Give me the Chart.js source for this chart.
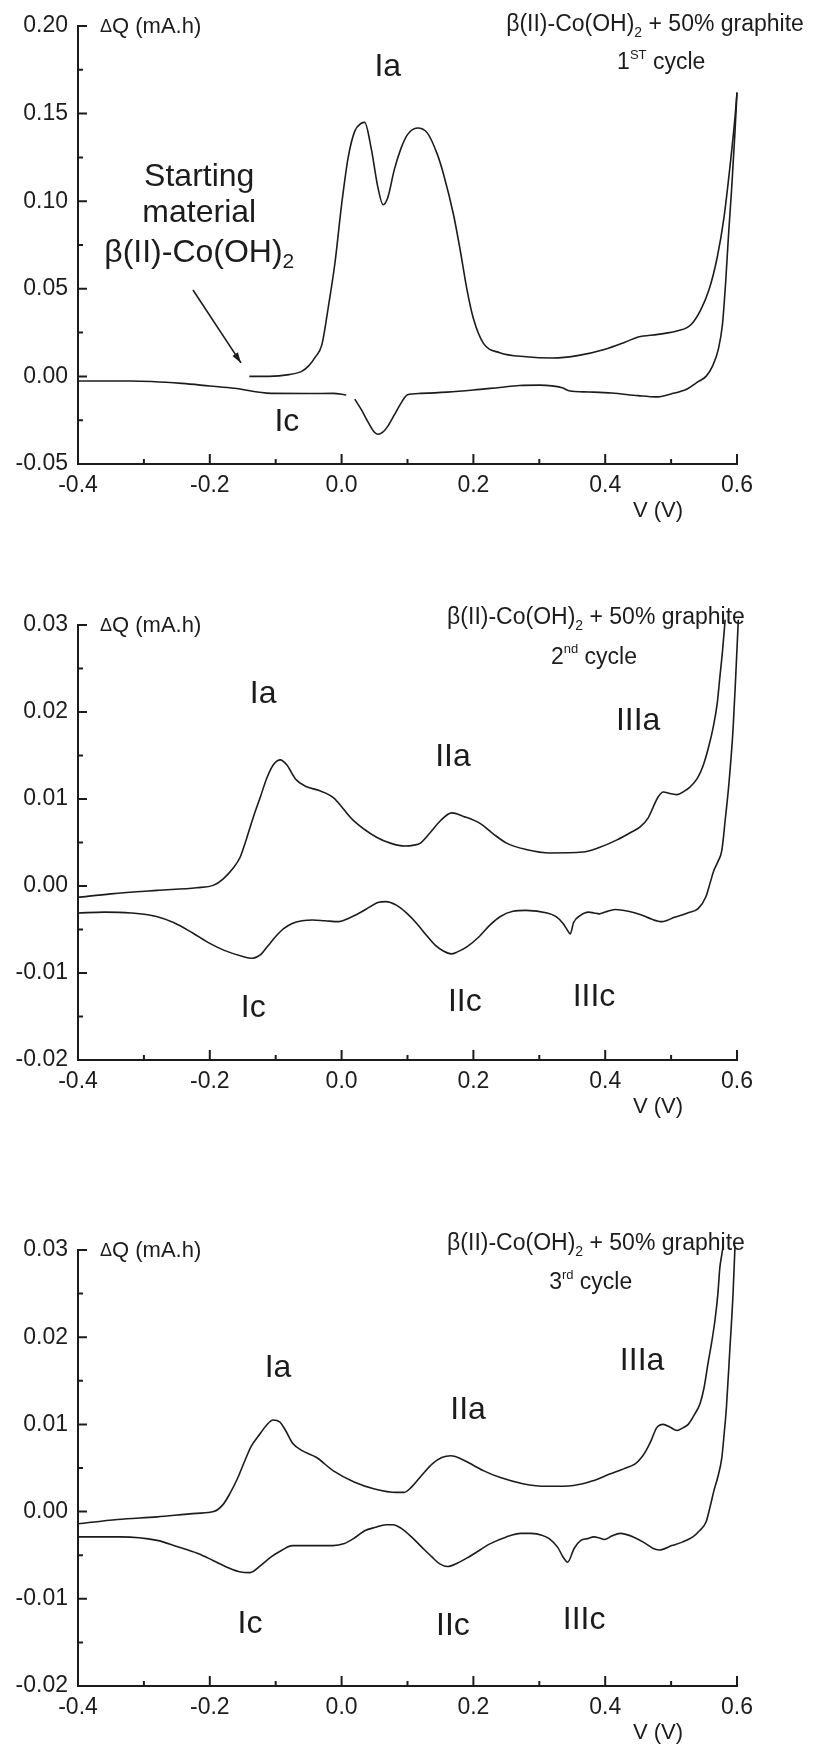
<!DOCTYPE html>
<html>
<head>
<meta charset="utf-8">
<title>beta(II)-Co(OH)2 + 50% graphite, cycles 1-3</title>
<script src="https://cdn.jsdelivr.net/npm/chart.js@4.4.1/dist/chart.umd.min.js"></script>
<style>
  html, body { margin: 0; padding: 0; background: #fff; }
  #page { position: relative; width: 817px; height: 1746px; overflow: hidden; }
  .panel { position: absolute; left: 0; width: 817px; }
  .panel canvas { display: block; }
</style>
</head>
<body>
<div id="page">
  <div class="panel" style="top:0px"><canvas id="cycle1Chart" width="817" height="524"></canvas></div>
  <div class="panel" style="top:599px"><canvas id="cycle2Chart" width="817" height="521"></canvas></div>
  <div class="panel" style="top:1224px"><canvas id="cycle3Chart" width="817" height="522"></canvas></div>
</div>
<script>
const xTickValues = [-0.4, -0.2, 0.0, 0.2, 0.4, 0.6];
const cycle1YTicks = [-0.05, 0.0, 0.05, 0.1, 0.15, 0.2];
const cycle23YTicks = [-0.02, -0.01, 0.0, 0.01, 0.02, 0.03];

// 1st cycle, oxidation branch (starts at -0.14 V)
const cycle1AnodicV = [-0.14, -0.11, -0.08, -0.06, -0.05, -0.04, -0.03, -0.02, -0.01, 0.0, 0.01, 0.02, 0.03, 0.035, 0.045, 0.055, 0.063, 0.07, 0.08, 0.09, 0.1, 0.115, 0.13, 0.145, 0.155, 0.17, 0.18, 0.19, 0.2, 0.215, 0.24, 0.28, 0.32, 0.36, 0.4, 0.43, 0.45, 0.48, 0.51, 0.53, 0.545, 0.558, 0.57, 0.58, 0.59, 0.597, 0.6];
const cycle1AnodicQ = [0.0, 0.0, 0.001, 0.003, 0.006, 0.011, 0.018, 0.04, 0.065, 0.098, 0.125, 0.14, 0.1445, 0.145, 0.13, 0.108, 0.098, 0.102, 0.118, 0.13, 0.138, 0.1418, 0.139, 0.127, 0.115, 0.092, 0.072, 0.05, 0.033, 0.019, 0.0135, 0.0112, 0.0105, 0.012, 0.0155, 0.0195, 0.0225, 0.024, 0.026, 0.0295, 0.038, 0.05, 0.068, 0.09, 0.122, 0.148, 0.162];

// 1st cycle, reduction branch (null = break in the trace)
const cycle1CathodicV = [0.6, 0.597, 0.592, 0.587, 0.583, 0.578, 0.572, 0.563, 0.553, 0.541, 0.525, 0.5, 0.477, 0.45, 0.41, 0.375, 0.345, 0.335, 0.3, 0.27, 0.24, 0.2, 0.16, 0.12, 0.1, 0.09, 0.08, 0.07, 0.062, 0.055, 0.048, 0.04, 0.03, 0.02, 0.013, 0.007, -0.013, -0.05, -0.107, -0.163, -0.2, -0.242, -0.32, -0.4];
const cycle1CathodicQ = [0.162, 0.14, 0.108, 0.08, 0.055, 0.03, 0.016, 0.006, 0.0, -0.003, -0.007, -0.01, -0.0117, -0.011, -0.0095, -0.0089, -0.0082, -0.0065, -0.005, -0.0052, -0.0063, -0.0078, -0.009, -0.0097, -0.0105, -0.0154, -0.022, -0.0285, -0.032, -0.033, -0.031, -0.026, -0.019, -0.013, null, -0.0106, -0.0097, -0.0098, -0.0097, -0.0068, -0.0055, -0.004, -0.0026, -0.0026];

const cycle2AnodicV = [-0.4, -0.35, -0.28, -0.22, -0.194, -0.18, -0.165, -0.154, -0.144, -0.134, -0.123, -0.113, -0.103, -0.093, -0.083, -0.07, -0.053, -0.035, -0.013, 0.017, 0.053, 0.075, 0.096, 0.11, 0.119, 0.134, 0.15, 0.167, 0.185, 0.21, 0.23, 0.251, 0.28, 0.316, 0.366, 0.39, 0.418, 0.44, 0.453, 0.465, 0.473, 0.48, 0.488, 0.5, 0.509, 0.52, 0.529, 0.54, 0.548, 0.557, 0.564, 0.57, 0.574, 0.578, 0.582];
const cycle2AnodicQ = [-0.0013, -0.0009, -0.0005, -0.0002, 0.0001, 0.0008, 0.002, 0.0033, 0.0055, 0.0079, 0.0103, 0.0125, 0.014, 0.0145, 0.0139, 0.0123, 0.0114, 0.011, 0.0102, 0.0076, 0.0056, 0.0049, 0.0046, 0.0047, 0.0049, 0.0061, 0.0075, 0.0084, 0.008, 0.0072, 0.006, 0.0049, 0.0042, 0.0038, 0.0039, 0.0044, 0.0053, 0.0062, 0.0068, 0.0078, 0.0091, 0.0102, 0.0108, 0.0106, 0.0105, 0.0109, 0.0114, 0.0124, 0.0137, 0.016, 0.0183, 0.021, 0.024, 0.027, 0.0306];

const cycle2CathodicV = [0.602, 0.598, 0.594, 0.588, 0.582, 0.577, 0.571, 0.565, 0.559, 0.553, 0.541, 0.525, 0.505, 0.486, 0.47, 0.454, 0.435, 0.415, 0.4, 0.391, 0.383, 0.375, 0.362, 0.352, 0.347, 0.342, 0.336, 0.325, 0.312, 0.28, 0.26, 0.241, 0.225, 0.209, 0.19, 0.175, 0.166, 0.155, 0.142, 0.128, 0.114, 0.1, 0.083, 0.067, 0.055, 0.043, 0.027, 0.011, -0.004, -0.025, -0.044, -0.06, -0.075, -0.088, -0.1, -0.112, -0.123, -0.135, -0.15, -0.178, -0.2, -0.226, -0.255, -0.281, -0.32, -0.36, -0.4];
const cycle2CathodicQ = [0.0306, 0.024, 0.018, 0.012, 0.0075, 0.0041, 0.0028, 0.0018, 0.0003, -0.0012, -0.0026, -0.0031, -0.0036, -0.0041, -0.0038, -0.0033, -0.0029, -0.0027, -0.003, -0.0032, -0.0031, -0.003, -0.0034, -0.0042, -0.0055, -0.005, -0.0043, -0.0035, -0.0031, -0.0028, -0.0029, -0.0035, -0.0045, -0.0058, -0.007, -0.0076, -0.0078, -0.0075, -0.0068, -0.0056, -0.0043, -0.0032, -0.0022, -0.0018, -0.0019, -0.0024, -0.0031, -0.0037, -0.0041, -0.004, -0.0039, -0.004, -0.0043, -0.0049, -0.0058, -0.0069, -0.0079, -0.0083, -0.0081, -0.0074, -0.0066, -0.0054, -0.0042, -0.0035, -0.0031, -0.003, -0.0031];

const cycle3AnodicV = [-0.4, -0.34, -0.28, -0.22, -0.194, -0.18, -0.17, -0.158, -0.147, -0.137, -0.124, -0.114, -0.104, -0.094, -0.085, -0.074, -0.06, -0.038, -0.013, 0.019, 0.05, 0.083, 0.095, 0.106, 0.122, 0.138, 0.152, 0.166, 0.18, 0.193, 0.215, 0.241, 0.275, 0.312, 0.352, 0.38, 0.407, 0.428, 0.446, 0.455, 0.462, 0.47, 0.478, 0.488, 0.498, 0.509, 0.518, 0.526, 0.536, 0.544, 0.55, 0.556, 0.562, 0.567, 0.571, 0.574, 0.577, 0.579];
const cycle3AnodicQ = [-0.0014, -0.0009, -0.0006, -0.0002, 0.0, 0.0008, 0.002, 0.0038, 0.0058, 0.0075, 0.0089, 0.0099, 0.0105, 0.0103, 0.0093, 0.0078, 0.007, 0.0062, 0.0047, 0.0034, 0.0026, 0.0022, 0.0022, 0.0028, 0.0042, 0.0055, 0.0062, 0.0064, 0.0061, 0.0056, 0.0047, 0.0039, 0.0032, 0.0029, 0.003, 0.0035, 0.0043, 0.0049, 0.0055, 0.0062, 0.007, 0.0082, 0.0096, 0.01, 0.0097, 0.0093, 0.0096, 0.01, 0.0112, 0.0124, 0.0142, 0.017, 0.0196, 0.0222, 0.025, 0.028, 0.0295, 0.0305];

const cycle3CathodicV = [0.597, 0.594, 0.589, 0.584, 0.58, 0.577, 0.571, 0.565, 0.559, 0.553, 0.543, 0.533, 0.517, 0.501, 0.482, 0.472, 0.462, 0.445, 0.423, 0.41, 0.399, 0.39, 0.383, 0.373, 0.363, 0.353, 0.343, 0.336, 0.328, 0.315, 0.304, 0.288, 0.272, 0.25, 0.225, 0.21, 0.193, 0.176, 0.161, 0.149, 0.137, 0.122, 0.106, 0.09, 0.078, 0.067, 0.052, 0.035, 0.02, 0.003, -0.013, -0.044, -0.075, -0.09, -0.107, -0.123, -0.139, -0.155, -0.17, -0.195, -0.218, -0.25, -0.28, -0.336, -0.4];
const cycle3CathodicQ = [0.0305, 0.025, 0.0184, 0.012, 0.0085, 0.0062, 0.004, 0.0024, 0.0005, -0.0012, -0.0022, -0.0029, -0.0035, -0.0039, -0.0044, -0.0042, -0.0037, -0.003, -0.0025, -0.0028, -0.0032, -0.003, -0.0029, -0.0031, -0.0033, -0.0042, -0.0058, -0.0052, -0.0041, -0.0031, -0.0027, -0.0025, -0.0025, -0.0029, -0.0037, -0.0044, -0.0052, -0.0059, -0.0063, -0.006, -0.0052, -0.0041, -0.0029, -0.0019, -0.0015, -0.0015, -0.0018, -0.0022, -0.003, -0.0037, -0.0039, -0.0039, -0.0039, -0.0044, -0.0052, -0.0062, -0.007, -0.0069, -0.0065, -0.0056, -0.0048, -0.004, -0.0033, -0.0029, -0.0029];

// Peak names, placed in data coordinates (V, dQ).
const cycle1PeakLabels = [
  { text: "Ia", v: 0.07, q: 0.1766 },
  { text: "Ic", v: -0.083, q: -0.026 },
];
const cycle2PeakLabels = [
  { text: "Ia", v: -0.119, q: 0.022 },
  { text: "IIa", v: 0.169, q: 0.0148 },
  { text: "IIIa", v: 0.45, q: 0.0189 },
  { text: "Ic", v: -0.134, q: -0.014 },
  { text: "IIc", v: 0.187, q: -0.0134 },
  { text: "IIIc", v: 0.383, q: -0.0128 },
];
const cycle3PeakLabels = [
  { text: "Ia", v: -0.0965, q: 0.0164 },
  { text: "IIa", v: 0.192, q: 0.0116 },
  { text: "IIIa", v: 0.456, q: 0.0173 },
  { text: "Ic", v: -0.139, q: -0.0129 },
  { text: "IIc", v: 0.169, q: -0.0131 },
  { text: "IIIc", v: 0.368, q: -0.0125 },
];

const INK = "#1c1c1c";
const FONT = '"Liberation Sans", Arial, Helvetica, sans-serif';

const toPoints = (vs, qs) => vs.map((v, i) => ({ x: v, y: qs[i] }));
const midpoints = (values) => values.slice(1).map((v, i) => (v + values[i]) / 2);

// Draw a run of text pieces (for sub/superscripts), centred or left aligned.
const drawRich = (ctx, parts, x, y, align) => {
  let width = 0;
  parts.forEach((p) => {
    ctx.font = `${p.size}px ${FONT}`;
    width += ctx.measureText(p.text).width;
  });
  let cursor = align === "left" ? x : x - width / 2;
  ctx.textAlign = "left";
  ctx.textBaseline = "middle";
  parts.forEach((p) => {
    ctx.font = `${p.size}px ${FONT}`;
    ctx.fillText(p.text, cursor, y + (p.shift || 0));
    cursor += ctx.measureText(p.text).width;
  });
};

const compoundParts = [
  { text: "β(II)-Co(OH)", size: 23 },
  { text: "2", size: 14, shift: 8 },
  { text: " + 50% graphite", size: 23 },
];
const cycleParts = (num, suffix) => [
  { text: num, size: 23 },
  { text: suffix, size: 13, shift: -8 },
  { text: " cycle", size: 23 },
];

// Ticks of the original point into the plot: long for labelled, short for halves.
const inwardTicks = {
  id: "inwardTicks",
  afterDraw(chart) {
    const { ctx, chartArea, scales } = chart;
    const xMajor = scales.x.ticks.map((t) => t.value);
    const yMajor = scales.y.ticks.map((t) => t.value);
    ctx.save();
    ctx.strokeStyle = INK;
    ctx.lineWidth = 2;
    ctx.beginPath();
    xMajor.forEach((v) => {
      const px = scales.x.getPixelForValue(v);
      ctx.moveTo(px, chartArea.bottom);
      ctx.lineTo(px, chartArea.bottom - 10);
    });
    midpoints(xMajor).forEach((v) => {
      const px = scales.x.getPixelForValue(v);
      ctx.moveTo(px, chartArea.bottom);
      ctx.lineTo(px, chartArea.bottom - 5);
    });
    yMajor.forEach((v) => {
      const py = scales.y.getPixelForValue(v);
      ctx.moveTo(chartArea.left, py);
      ctx.lineTo(chartArea.left + 9, py);
    });
    midpoints(yMajor).forEach((v) => {
      const py = scales.y.getPixelForValue(v);
      ctx.moveTo(chartArea.left, py);
      ctx.lineTo(chartArea.left + 5, py);
    });
    ctx.stroke();
    ctx.restore();
  },
};

const makeNotesPlugin = (notes) => ({
  id: "panelNotes",
  afterDraw(chart) {
    const { ctx, chartArea, scales } = chart;
    const px = (v) => scales.x.getPixelForValue(v);
    const py = (q) => scales.y.getPixelForValue(q);
    ctx.save();
    ctx.fillStyle = INK;

    drawRich(ctx, [{ text: "Δ", size: 18 }, { text: "Q (mA.h)", size: 22 }], chartArea.left + 22, chartArea.top + 1, "left");
    drawRich(ctx, [{ text: "V (V)", size: 22 }], chartArea.left + 580, chartArea.bottom + 47, "center");

    drawRich(ctx, compoundParts, px(notes.titleAt.v), py(notes.titleAt.q), "center");
    drawRich(ctx, notes.cycle, px(notes.cycleAt.v), py(notes.cycleAt.q), "center");

    notes.peaks.forEach((item) => {
      drawRich(ctx, [{ text: item.text, size: 32 }], px(item.v), py(item.q), "center");
    });

    if (notes.starting) {
      const s = notes.starting;
      drawRich(ctx, [{ text: "Starting", size: 32 }], px(s.v), py(s.lines[0]), "center");
      drawRich(ctx, [{ text: "material", size: 32 }], px(s.v), py(s.lines[1]), "center");
      drawRich(ctx, [{ text: "β(II)-Co(OH)", size: 32 }, { text: "2", size: 21, shift: 9 }], px(s.v), py(s.lines[2]), "center");

      const x1 = px(s.arrowFrom.v), y1 = py(s.arrowFrom.q);
      const x2 = px(s.arrowTo.v), y2 = py(s.arrowTo.q);
      const angle = Math.atan2(y2 - y1, x2 - x1);
      ctx.strokeStyle = INK;
      ctx.lineWidth = 1.6;
      ctx.beginPath();
      ctx.moveTo(x1, y1);
      ctx.lineTo(x2, y2);
      ctx.stroke();
      ctx.beginPath();
      ctx.moveTo(x2, y2);
      ctx.lineTo(x2 - 11 * Math.cos(angle - 0.3), y2 - 11 * Math.sin(angle - 0.3));
      ctx.lineTo(x2 - 11 * Math.cos(angle + 0.3), y2 - 11 * Math.sin(angle + 0.3));
      ctx.closePath();
      ctx.fill();
    }
    ctx.restore();
  },
});

const traceStyle = {
  borderColor: INK,
  borderWidth: 1.6,
  pointRadius: 0,
  fill: false,
  cubicInterpolationMode: "monotone",
  spanGaps: false,
  clip: false,
};

const buildCycleChart = (canvasId, yTicks, branches, notes) => {
  const canvas = document.getElementById(canvasId);
  if (!canvas) {
    return;
  }

  new Chart(canvas, {
    type: "line",
    data: {
      datasets: branches.map((b) => ({ ...traceStyle, label: b.label, data: toPoints(b.v, b.q) })),
    },
    options: {
      responsive: false,
      animation: false,
      layout: { padding: { top: 26, right: 80, left: 0, bottom: 0 } },
      plugins: {
        legend: { display: false },
        tooltip: { enabled: false },
      },
      scales: {
        x: {
          type: "linear",
          min: xTickValues[0],
          max: xTickValues[xTickValues.length - 1],
          afterBuildTicks: (scale) => {
            scale.ticks = xTickValues.map((value) => ({ value }));
          },
          afterFit: (scale) => {
            scale.height = 60;
          },
          grid: { display: false, drawTicks: false },
          border: { display: true, color: INK, width: 2 },
          ticks: {
            autoSkip: false,
            maxRotation: 0,
            padding: 8,
            color: INK,
            font: { family: FONT, size: 23 },
            callback: (value) => Number(value).toFixed(1),
          },
        },
        y: {
          type: "linear",
          min: yTicks[0],
          max: yTicks[yTicks.length - 1],
          afterBuildTicks: (scale) => {
            scale.ticks = yTicks.map((value) => ({ value }));
          },
          afterFit: (scale) => {
            scale.width = 78;
          },
          grid: { display: false, drawTicks: false },
          border: { display: true, color: INK, width: 2 },
          ticks: {
            autoSkip: false,
            padding: 10,
            color: INK,
            font: { family: FONT, size: 23 },
            callback: (value) => Number(value).toFixed(2),
          },
        },
      },
    },
    plugins: [inwardTicks, makeNotesPlugin(notes)],
  });
};

document.addEventListener("DOMContentLoaded", () => {
  buildCycleChart(
    "cycle1Chart",
    cycle1YTicks,
    [
      { label: "1st cycle oxidation", v: cycle1AnodicV, q: cycle1AnodicQ },
      { label: "1st cycle reduction", v: cycle1CathodicV, q: cycle1CathodicQ },
    ],
    {
      titleAt: { v: 0.4756, q: 0.2006 },
      cycle: cycleParts("1", "ST"),
      cycleAt: { v: 0.485, q: 0.1789 },
      peaks: cycle1PeakLabels,
      starting: {
        v: -0.216,
        lines: [0.1138, 0.0933, 0.0704],
        arrowFrom: { v: -0.2255, q: 0.0493 },
        arrowTo: { v: -0.1527, q: 0.0077 },
      },
    }
  );

  buildCycleChart(
    "cycle2Chart",
    cycle23YTicks,
    [
      { label: "2nd cycle oxidation", v: cycle2AnodicV, q: cycle2AnodicQ },
      { label: "2nd cycle reduction", v: cycle2CathodicV, q: cycle2CathodicQ },
    ],
    {
      titleAt: { v: 0.386, q: 0.0308 },
      cycle: cycleParts("2", "nd"),
      cycleAt: { v: 0.383, q: 0.0263 },
      peaks: cycle2PeakLabels,
    }
  );

  buildCycleChart(
    "cycle3Chart",
    cycle23YTicks,
    [
      { label: "3rd cycle oxidation", v: cycle3AnodicV, q: cycle3AnodicQ },
      { label: "3rd cycle reduction", v: cycle3CathodicV, q: cycle3CathodicQ },
    ],
    {
      titleAt: { v: 0.386, q: 0.0307 },
      cycle: cycleParts("3", "rd"),
      cycleAt: { v: 0.378, q: 0.0262 },
      peaks: cycle3PeakLabels,
    }
  );
});
</script>
</body>
</html>
